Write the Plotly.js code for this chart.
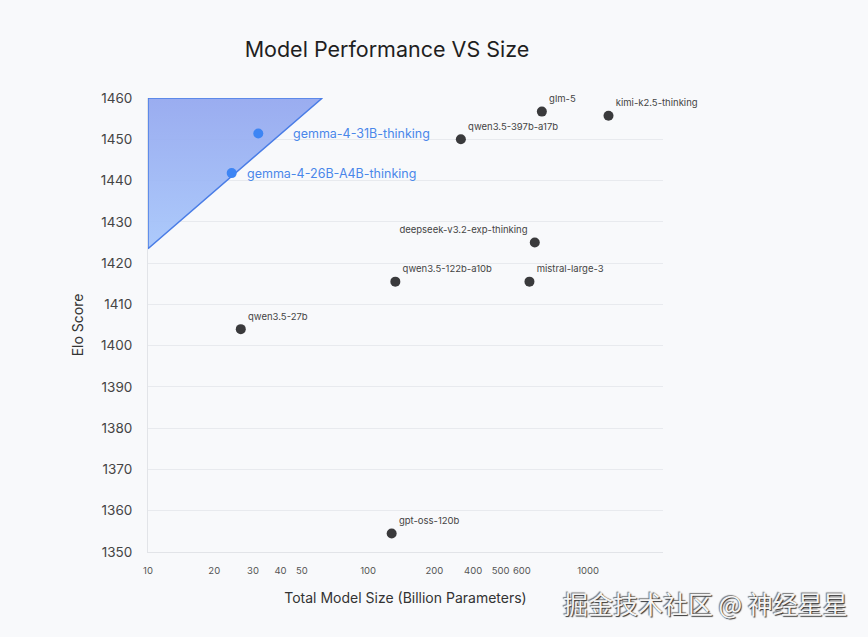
<!DOCTYPE html>
<html>
<head>
<meta charset="utf-8">
<script src="https://cdn.plot.ly/plotly-3.0.1.min.js"></script>
<style>
  html, body { margin: 0; padding: 0; background: #f8f9fb; }
  #chart { width: 868px; height: 637px; }
</style>
</head>
<body>
<div id="chart"></div>
<script>
// Other models
const models = ['qwen3.5-27b', 'gpt-oss-120b', 'qwen3.5-122b-a10b', 'qwen3.5-397b-a17b',
                'mistral-large-3', 'deepseek-v3.2-exp-thinking', 'glm-5', 'kimi-k2.5-thinking'];
const sizes = [26.4, 128, 133, 264, 541, 572, 616, 1237];
const elo = [1404, 1354.5, 1415.5, 1450, 1415.5, 1425, 1456.7, 1455.7];

// Gemma models
const gemmaModels = ['gemma-4-31B-thinking', 'gemma-4-26B-A4B-thinking'];
const gemmaSizes = [31.7, 24];
const gemmaElo = [1451.4, 1441.8];

// Highlight region (triangle)
const regionX = [10, 10, 62, 10];
const regionY = [1423.5, 1460, 1460, 1423.5];

// Axis ticks
const xTickVals = [10, 20, 30, 40, 50, 100, 200, 300, 400, 500, 1000];
const xTickText = ['10', '20', '30', '40', '50', '100', '200', '400', '500', '600', '1000'];
const yTickVals = [1350, 1360, 1370, 1380, 1390, 1400, 1410, 1420, 1430, 1440, 1450, 1460];

const FONT = 'Inter, "Open Sans", sans-serif';

const traces = [
  {
    type: 'scatter', mode: 'lines',
    x: regionX, y: regionY,
    fill: 'toself',
    fillgradient: {
      type: 'vertical',
      colorscale: [[0, 'rgba(166,198,251,0.92)'], [1, 'rgba(146,166,239,0.92)']]
    },
    line: { color: '#4a7de6', width: 1.5 },
    hoverinfo: 'skip', showlegend: false
  },
  {
    type: 'scatter', mode: 'markers+text',
    x: sizes, y: elo, text: models,
    textposition: models.map(m => m.startsWith('deepseek') ? 'top left' : 'top right'),
    textfont: { family: FONT, size: 9.5, color: '#444444' },
    marker: { color: '#3a3a3c', size: 10 },
    showlegend: false, cliponaxis: false
  },
  {
    type: 'scatter', mode: 'markers',
    x: gemmaSizes, y: gemmaElo,
    marker: { color: '#3d85f4', size: 10 },
    showlegend: false, cliponaxis: false
  }
];

const gemmaShift = [33, 13];
const annotations = gemmaModels.map((m, i) => ({
  x: Math.log10(gemmaSizes[i]), y: gemmaElo[i], xref: 'x', yref: 'y',
  text: m, showarrow: false, xanchor: 'left', yanchor: 'middle',
  xshift: gemmaShift[i],
  font: { family: FONT, size: 12.5, color: '#4a87ea' }
}));
annotations.push({
  xref: 'paper', yref: 'paper', x: 1.082, y: -0.113,
  xanchor: 'center', yanchor: 'middle', showarrow: false,
  text: '掘金技术社区 @ 神经星星',
  font: { family: '"Noto Sans CJK SC", sans-serif', size: 25, color: '#f4f4f4',
          shadow: '1px 1px 1px #333, -1px -1px 1px #777' }
});

const layout = {
  width: 868, height: 637,
  paper_bgcolor: '#f8f9fb', plot_bgcolor: '#f8f9fb',
  margin: { l: 148, r: 205, t: 98, b: 84.5 },
  font: { family: FONT, color: '#333' },
  title: {
    text: 'Model Performance VS Size',
    font: { family: FONT, size: 21.5, color: '#1f1f1f' },
    x: 387 / 868, xanchor: 'center', xref: 'container',
    y: 1 - 49 / 637, yanchor: 'middle', yref: 'container'
  },
  xaxis: {
    type: 'log', range: [1, 3.34],
    tickvals: xTickVals, ticktext: xTickText,
    tickfont: { family: FONT, size: 9.5, color: '#555' },
    ticks: '', ticklabelstandoff: 10,
    showgrid: false, zeroline: false,
    showline: true, linecolor: '#e2e4e8', linewidth: 1,
    title: { text: 'Total Model Size (Billion Parameters)', standoff: 17,
             font: { family: FONT, size: 14, color: '#333' } }
  },
  yaxis: {
    range: [1350, 1460],
    tickvals: yTickVals,
    tickfont: { family: FONT, size: 13.5, color: '#444' },
    ticks: '', ticklabelstandoff: 12,
    showgrid: true, gridcolor: '#e8eaee', gridwidth: 1,
    zeroline: false,
    showline: true, linecolor: '#e2e4e8', linewidth: 1,
    title: { text: 'Elo Score', standoff: 13,
             font: { family: FONT, size: 14, color: '#333' } }
  },
  annotations: annotations
};

Plotly.newPlot('chart', traces, layout, { displayModeBar: false, staticPlot: true });
</script>
</body>
</html>
